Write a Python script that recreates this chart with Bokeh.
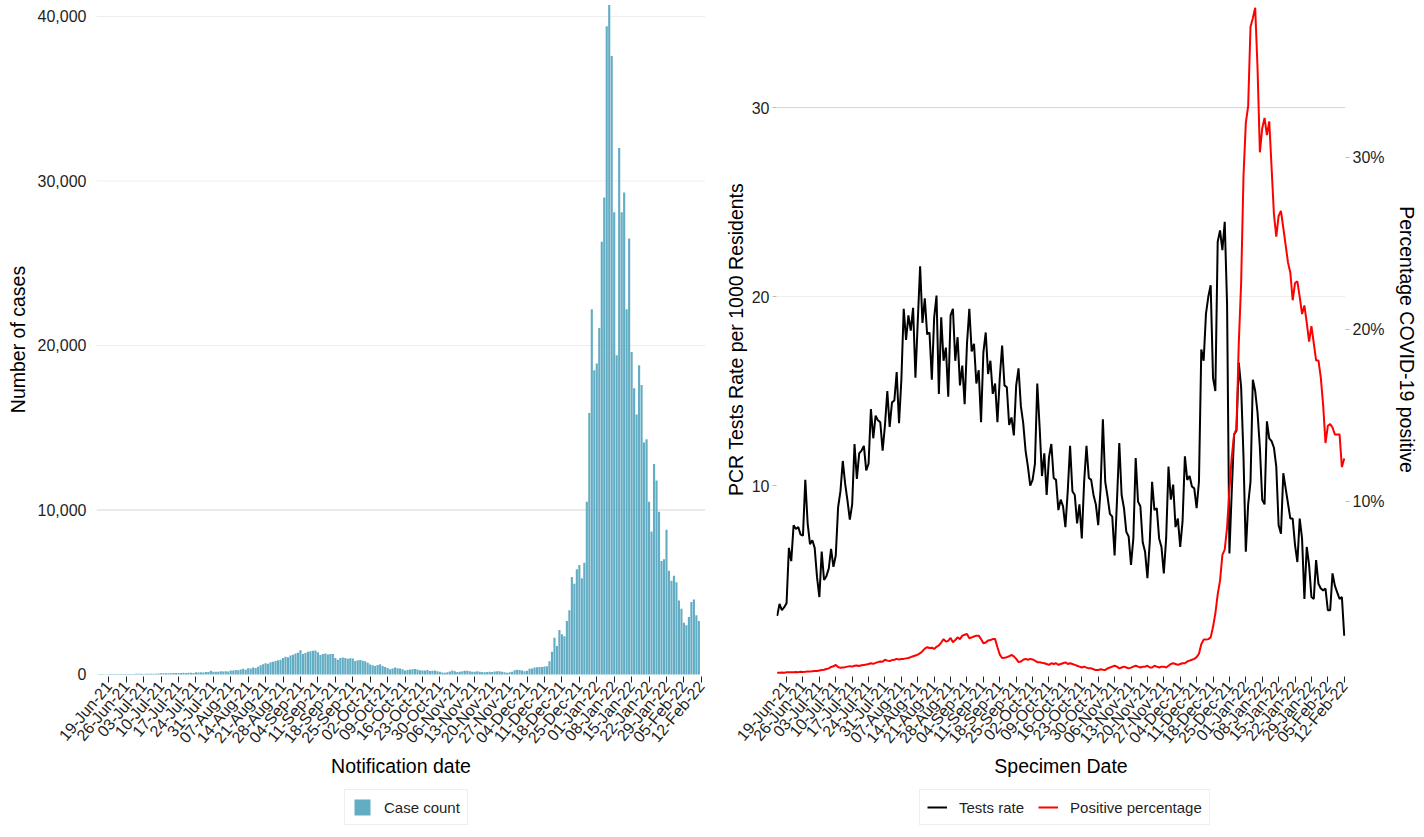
import numpy as np
import pandas as pd
from bokeh.plotting import figure
from bokeh.layouts import row, column
from bokeh.models import (Range1d, LinearAxis, FixedTicker, DatetimeTickFormatter,
                          NumeralTickFormatter, PrintfTickFormatter, Legend, LegendItem,
                          Span, ColumnDataSource)
from bokeh.embed import file_html
from bokeh.resources import INLINE

# ---------------- data ----------------
case_first_date = "2021-06-15"
case_counts = (
    # Jun 15-30
    [20, 25, 22, 18, 28, 30, 25, 27, 32, 30, 26, 35, 33, 30, 36, 40]
    # Jul
    + [38, 42, 35, 40, 45, 42, 48, 50, 55, 75, 70, 80, 72, 68, 85, 90, 88, 95, 100, 92,
       110, 105, 98, 130, 125, 140, 120, 150, 145, 220, 160]
    # Aug
    + [170, 165, 190, 180, 200, 175, 250, 240, 280, 260, 300, 345, 290, 380, 360, 420, 400,
       470, 560, 620, 680, 650, 750, 780, 820, 860, 900, 1000, 1080, 1050, 1150]
    # Sep
    + [1200, 1280, 1320, 1480, 1250, 1300, 1380, 1420, 1450, 1460, 1350, 1180, 1250, 1280,
       1220, 1250, 1240, 1010, 900, 1000, 1040, 1000, 960, 980, 975, 820, 860, 880, 830, 800]
    # Oct
    + [720, 600, 560, 520, 580, 620, 520, 450, 400, 320, 360, 420, 380, 360, 320, 250, 280,
       300, 320, 330, 300, 260, 240, 250, 270, 210, 230, 250, 200, 160, 120]
    # Nov
    + [100, 140, 180, 240, 200, 150, 170, 200, 220, 230, 190, 160, 170, 190, 170, 150, 130,
       150, 170, 150, 180, 200, 190, 160, 130, 110, 130, 170, 260, 290]
    # Dec
    + [270, 240, 200, 220, 350, 370, 420, 440, 450, 460, 480, 500, 800, 1380, 2230, 1730,
       2700, 2440, 2330, 3250, 3900, 5930, 5520, 6400, 6660, 5850, 6800, 10500, 15900, 22200, 18500]
    # Jan
    + [18900, 21070, 26300, 29000, 39400, 40700, 37600, 28100, 19400, 32000, 28100, 29300,
       22200, 26500, 19600, 17400, 15800, 18800, 17600, 14100, 14300, 10500, 8700, 12800,
       11800, 9900, 6900, 7000, 8800, 6300, 5700]
    # Feb 1-11
    + [6000, 5600, 4500, 4000, 3150, 3000, 3500, 4400, 4560, 3600, 3250]
)

test_first_date = "2021-06-15"
tests_rate = [
    3.1, 3.74, 3.4, 3.56, 3.77, 6.7, 6.0, 7.9, 7.7, 7.8, 7.4, 7.35, 10.3, 8.0, 6.9, 7.1, 6.7,
    5.15, 4.1, 6.5, 5.0, 5.2, 5.6, 6.65, 5.7, 6.3, 8.85, 9.7, 11.3, 10.1, 9.2, 8.2, 9.0, 12.2,
    10.35, 11.7, 11.85, 12.1, 10.8, 11.15, 14.05, 12.5, 13.7, 13.45, 13.35, 11.85, 13.2, 15.0,
    13.1, 14.4, 14.5, 16.0, 13.3, 15.6, 19.35, 17.7, 19.0, 18.2, 19.4, 15.7, 18.7, 21.6, 18.6,
    19.9, 18.0, 18.1, 15.6, 18.9, 20.05, 14.85, 18.9, 16.6, 17.3, 14.7, 19.0, 19.35, 16.6,
    17.85, 15.3, 16.35, 14.3, 17.5, 19.35, 17.1, 17.5, 15.4, 16.1, 13.35, 17.05, 18.1, 15.9,
    16.6, 14.85, 15.4, 13.35, 15.7, 17.4, 15.3, 15.2, 13.2, 13.6, 12.65, 15.3, 16.2, 14.2,
    13.3, 11.85, 11.0, 10.0, 10.3, 11.15, 15.4, 13.1, 10.5, 11.7, 9.5, 11.5, 12.2, 10.4, 10.3,
    8.7,
    9.25, 8.9, 7.8, 9.7, 12.1, 9.7, 9.5, 8.0, 9.0, 7.2, 10.2, 12.1, 10.4, 10.3, 9.5, 9.0, 7.9,
    9.8, 13.5, 10.2, 9.4, 8.5, 8.35, 6.3, 9.15, 12.25, 9.5, 8.8, 7.55, 7.3, 5.8, 7.2, 11.45,
    9.15, 8.9, 7.0, 6.5, 5.1, 7.0, 10.2, 8.7, 8.8, 7.2, 6.75, 5.35, 7.2, 11.0, 9.25, 10.05,
    7.8, 8.25, 6.75, 8.1, 11.55, 10.3, 10.5, 9.95, 9.85, 8.8, 10.2, 17.2, 16.6, 19.1, 20.0,
    20.6, 15.7, 15.0, 22.9, 23.5, 22.45, 23.95, 19.6, 6.4, 9.7, 12.7, 12.9, 16.5, 15.2, 11.55,
    6.5, 9.0, 10.2, 15.6, 15.0, 13.85, 12.0, 9.25, 9.0, 13.4, 12.5, 12.35, 12.0, 11.0, 7.9,
    7.45, 10.65, 9.85, 9.05, 8.25, 8.25, 6.85, 5.95, 8.25, 7.2, 4.0, 6.75, 5.8, 4.1, 4.0, 6.05,
    4.8, 4.55, 4.45, 4.55, 3.4, 3.4, 5.35, 4.7, 4.35, 4.0, 4.1, 2.05,
]

positive_pct = [
    0.05, 0.05, 0.06, 0.05, 0.07, 0.08, 0.07, 0.08, 0.09, 0.08,
    0.1, 0.09, 0.1, 0.12, 0.11, 0.13, 0.15, 0.14, 0.17, 0.2,
    0.22, 0.26, 0.3, 0.38, 0.42, 0.5, 0.38, 0.33, 0.35, 0.37,
    0.4, 0.43, 0.4, 0.45, 0.47, 0.44, 0.48, 0.5, 0.52, 0.55,
    0.6, 0.56, 0.62, 0.66, 0.7, 0.68, 0.8, 0.75, 0.72, 0.78,
    0.8, 0.85, 0.82, 0.84, 0.85, 0.88, 0.9, 0.95, 1.0, 1.05,
    1.1, 1.18, 1.3, 1.45, 1.53, 1.48, 1.5, 1.43, 1.55, 1.63,
    1.8, 2.0, 1.85, 1.9, 2.07, 1.82, 1.95, 2.1, 2.0, 2.2,
    2.25, 2.3, 2.05, 2.1, 2.15, 2.2, 2.2, 2.0, 1.76, 1.8,
    1.92, 1.95, 2.0, 2.0, 1.53, 1.1, 0.9, 0.92, 0.95, 1.0,
    1.08, 1.0, 0.85, 0.66, 0.7, 0.8, 0.85, 0.8, 0.85, 0.82,
    0.75, 0.66, 0.65, 0.62, 0.6, 0.55, 0.5,
    0.6, 0.55, 0.6, 0.5, 0.55, 0.6, 0.65, 0.55,
    0.6, 0.55, 0.5, 0.45, 0.4, 0.35, 0.4, 0.34,
    0.3, 0.3, 0.25, 0.2, 0.2, 0.25, 0.22, 0.2,
    0.3, 0.35, 0.4, 0.45, 0.4, 0.3, 0.35, 0.4,
    0.35, 0.3, 0.34, 0.4, 0.45, 0.4, 0.35, 0.4,
    0.4, 0.45, 0.35, 0.35, 0.45, 0.4, 0.35, 0.4,
    0.4, 0.35, 0.45, 0.55, 0.6, 0.55, 0.5, 0.55,
    0.6, 0.6, 0.7, 0.75, 0.8, 0.85, 0.95,
    1.15, 1.7, 1.97, 1.97, 2.0, 2.1, 2.7, 3.5, 4.6, 5.4, 6.9, 7.2, 8.5, 10.7, 12.6, 13.9,
    14.2, 19.2, 22.7, 28.9, 32.0, 33.0, 37.6, 38.1,
    38.7, 35.2, 30.3, 31.7, 32.3, 31.3, 32.1, 29.4, 26.7, 25.4, 26.6, 26.9, 25.9, 24.9, 23.9,
    23.3, 21.7, 22.7, 22.8, 21.9, 20.9, 21.4, 20.4, 19.3, 20.2, 19.2, 18.2, 18.2, 17.2, 15.6,
    13.4, 14.4, 14.5, 14.3, 13.9, 13.9, 13.9, 12.0, 12.5,
]

tick_first, tick_last = "2021-06-19", "2022-02-12"
case_ticks = [0, 10000, 20000, 30000, 40000]
rate_ticks = [10, 20, 30]
rate_grid = [20, 30]
pct_ticks = [10, 20, 30]

# ---------------- helpers ----------------
FONT = "Liberation Sans"
TXT = "#1f1f1f"
BAR = "#63adc4"
DAY_MS = 86400000.0


def to_ms(idx):
    return [float(v) for v in (pd.DatetimeIndex(idx) - pd.Timestamp("1970-01-01")) // pd.Timedelta(milliseconds=1)]


tick_ms = to_ms(pd.date_range(tick_first, tick_last, freq="7D"))
case_dates = pd.date_range(case_first_date, periods=len(case_counts), freq="D")
test_dates = pd.date_range(test_first_date, periods=len(tests_rate), freq="D")

date_fmt = DatetimeTickFormatter(days="%d-%b-%y", months="%d-%b-%y", years="%d-%b-%y",
                                 hours="%d-%b-%y", hourmin="%d-%b-%y", minutes="%d-%b-%y")


def style_xaxis(ax, title):
    ax.ticker = FixedTicker(ticks=tick_ms)
    ax.formatter = date_fmt
    ax.major_label_orientation = 0.87
    ax.major_label_text_font = FONT
    ax.major_label_text_font_size = "16px"
    ax.major_label_text_color = TXT
    ax.major_label_standoff = 1
    ax.axis_line_color = None
    ax.major_tick_line_color = "#222222"
    ax.major_tick_out = 6
    ax.major_tick_in = 0
    ax.minor_tick_line_color = None
    ax.axis_label = title
    ax.axis_label_text_font = FONT
    ax.axis_label_text_font_style = "normal"
    ax.axis_label_text_font_size = "19.5px"
    ax.axis_label_text_color = "#000000"
    ax.axis_label_standoff = 0


def style_yaxis(ax, title, ticks, tick_color):
    ax.ticker = FixedTicker(ticks=ticks)
    ax.major_label_text_font = FONT
    ax.major_label_text_font_size = "16px"
    ax.major_label_text_color = TXT
    ax.axis_line_color = None
    ax.minor_tick_line_color = None
    ax.major_tick_line_color = tick_color
    ax.major_tick_out = 4
    ax.major_tick_in = 0
    ax.axis_label = title
    ax.axis_label_text_font = FONT
    ax.axis_label_text_font_style = "normal"
    ax.axis_label_text_font_size = "19.5px"
    ax.axis_label_text_color = "#000000"


def legend_figure(width, height, x_range, y_range):
    # a small strip below each chart that only hosts the legend (its glyphs fall outside
    # the strip's ranges, so only the legend keys are visible)
    f = figure(width=width, height=height, x_range=x_range, y_range=y_range,
               x_axis_location=None, y_axis_location=None, min_border=0,
               output_backend="svg", toolbar_location=None)
    f.outline_line_color = None
    f.grid.visible = False
    return f


def style_legend(lg, loc):
    lg.orientation = "horizontal"
    lg.location = loc
    lg.border_line_color = "#dddddd"
    lg.border_line_width = 1
    lg.background_fill_color = "white"
    lg.label_text_font = FONT
    lg.label_text_font_size = "15px"
    lg.label_text_color = TXT
    lg.glyph_width = 20
    lg.glyph_height = 20
    lg.padding = 7
    lg.spacing = 14
    lg.label_standoff = 12
    lg.margin = 0


# ---------------- left: case counts ----------------
x_range1 = Range1d(pd.Timestamp("2021-06-14 02:00"), pd.Timestamp("2022-02-13 16:00"))
p1 = figure(x_axis_type="datetime", frame_width=609, frame_height=674,
            min_border_left=96, min_border_right=15, min_border_top=2, min_border_bottom=110,
            x_range=x_range1, y_range=Range1d(-122, 40851),
            output_backend="svg", toolbar_location=None)
p1.outline_line_color = None
p1.grid.visible = False
for v in case_ticks[1:]:
    p1.add_layout(Span(location=v, dimension="width", level="underlay",
                       line_color="#d6d6d6" if v == 10000 else "#eeeeee", line_width=1))

src1 = ColumnDataSource(dict(date=case_dates, count=case_counts))
bars = p1.vbar(x="date", top="count", bottom=0, width=0.86 * DAY_MS, source=src1,
               fill_color=BAR, line_color=None)

style_xaxis(p1.xaxis[0], "Notification date")
style_yaxis(p1.yaxis[0], "Number of cases", case_ticks, None)
p1.yaxis[0].formatter = NumeralTickFormatter(format="0,0")
p1.yaxis[0].major_label_standoff = 6
p1.yaxis[0].axis_label_standoff = 6

# legend strip (left): the key glyph shares the data but lies far below the strip's range
lf1 = legend_figure(720, 49, x_range1, Range1d(100000, 110000))
key_bar = lf1.vbar(x="date", top="count", bottom=0, width=0.86 * DAY_MS, source=src1,
                   fill_color=BAR, line_color=None)
lg1 = Legend(items=[LegendItem(label="Case count", renderers=[key_bar])])
style_legend(lg1, (344, 10))
lf1.add_layout(lg1, "center")

# ---------------- right: tests rate & positivity ----------------
x_range2 = Range1d(pd.Timestamp("2021-06-14 17:00"), pd.Timestamp("2022-02-12 13:00"))
p2 = figure(x_axis_type="datetime", frame_width=569, frame_height=674,
            min_border_left=56, min_border_right=78, min_border_top=2, min_border_bottom=110,
            x_range=x_range2, y_range=Range1d(-0.106, 35.56),
            output_backend="svg", toolbar_location=None)
p2.extra_y_ranges = {"pct": Range1d(-0.174, 39.01)}
p2.outline_line_color = None
p2.grid.visible = False
for v in rate_grid:
    p2.add_layout(Span(location=v, dimension="width", level="underlay",
                       line_color="#d6d6d6" if v == 30 else "#eeeeee", line_width=1))

src2 = ColumnDataSource(dict(date=test_dates, rate=tests_rate, pct=positive_pct))
l_rate = p2.line(x="date", y="rate", source=src2, line_color="black", line_width=2)
l_pct = p2.line(x="date", y="pct", source=src2, line_color="red", line_width=2,
                y_range_name="pct")

style_xaxis(p2.xaxis[0], "Specimen Date")
style_yaxis(p2.yaxis[0], "PCR Tests Rate per 1000 Residents", rate_ticks, "#bbbbbb")
p2.yaxis[0].major_label_standoff = 3
p2.yaxis[0].axis_label_standoff = 2

ax_r = LinearAxis(y_range_name="pct")
style_yaxis(ax_r, "Percentage COVID-19 positive", pct_ticks, "#bbbbbb")
ax_r.formatter = PrintfTickFormatter(format="%d%%")
ax_r.major_label_standoff = 3
ax_r.axis_label_standoff = 8
p2.add_layout(ax_r, "right")

# legend strip (right)
lf2 = legend_figure(703, 49, x_range2, Range1d(-60, -50))
key_rate = lf2.line(x="date", y="rate", source=src2, line_color="black", line_width=2)
key_pct = lf2.line(x="date", y="pct", source=src2, line_color="red", line_width=2)
lg2 = Legend(items=[LegendItem(label="Tests rate", renderers=[key_rate]),
                    LegendItem(label="Positive percentage", renderers=[key_pct])])
style_legend(lg2, (199, 10))
lf2.add_layout(lg2, "center")

layout = column(row(p1, p2), row(lf1, lf2))
open("out.html", "w").write(file_html(layout, INLINE))
